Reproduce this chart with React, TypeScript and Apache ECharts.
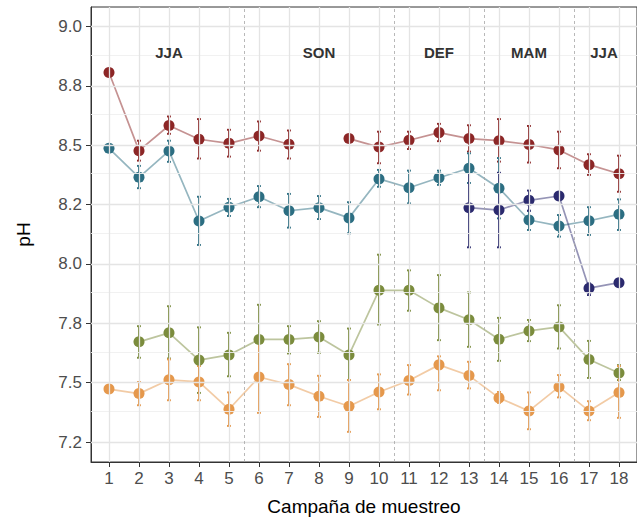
import React, { useEffect, useRef } from "react";
import * as echarts from "echarts";

// ---- Data ----
const campaigns = [1, 2, 3, 4, 5, 6, 7, 8, 9, 10, 11, 12, 13, 14, 15, 16, 17, 18];

const redMean = [8.806, 8.477, 8.583, 8.525, 8.508, 8.539, 8.504, null, 8.528, 8.492, 8.521, 8.553, 8.528, 8.519, 8.503, 8.48, 8.418, 8.38];
const redLow = [null, 8.435, 8.548, 8.444, 8.452, 8.477, 8.444, null, null, 8.424, 8.484, 8.517, 8.473, 8.431, 8.427, 8.403, 8.375, 8.304];
const redHigh = [null, 8.519, 8.621, 8.61, 8.565, 8.6, 8.562, null, null, 8.557, 8.557, 8.59, 8.584, 8.61, 8.581, 8.557, 8.462, 8.456];

const tealMean = [8.487, 8.365, 8.476, 8.181, 8.239, 8.283, 8.224, 8.237, 8.194, 8.358, 8.321, 8.363, 8.403, 8.319, 8.185, 8.16, 8.182, 8.209];
const tealLow = [null, 8.319, 8.43, 8.08, 8.202, 8.239, 8.153, 8.189, 8.129, 8.325, 8.255, 8.333, 8.341, 8.192, 8.143, 8.115, 8.122, 8.143];
const tealHigh = [null, 8.413, 8.519, 8.283, 8.274, 8.328, 8.295, 8.286, 8.26, 8.396, 8.393, 8.393, 8.466, 8.446, 8.224, 8.206, 8.239, 8.272];

const navyMean = [null, null, null, null, null, null, null, null, null, null, null, null, 8.237, 8.227, 8.268, 8.286, 7.898, 7.921];
const navyLow = [null, null, null, null, null, null, null, null, null, null, null, null, 8.07, 8.07, 8.224, null, 7.869, null];
const navyHigh = [null, null, null, null, null, null, null, null, null, null, null, null, 8.404, 8.384, 8.309, null, 7.918, null];

const greenMean = [null, 7.672, 7.71, 7.595, 7.617, 7.682, 7.682, 7.692, 7.617, 7.889, 7.889, 7.815, 7.765, 7.683, 7.718, 7.735, 7.598, 7.541];
const greenLow = [null, 7.605, 7.602, 7.457, 7.527, 7.536, 7.623, 7.626, 7.511, 7.745, 7.803, 7.679, 7.651, 7.592, 7.675, 7.644, 7.52, 7.511];
const greenHigh = [null, 7.738, 7.822, 7.733, 7.71, 7.828, 7.738, 7.759, 7.728, 8.039, 7.973, 7.953, 7.88, 7.773, 7.764, 7.826, 7.676, 7.574];

const orangeMean = [7.473, 7.454, 7.512, 7.503, 7.388, 7.524, 7.492, 7.443, 7.401, 7.461, 7.509, 7.575, 7.53, 7.436, 7.381, 7.482, 7.381, 7.459];
const orangeLow = [7.463, 7.405, 7.426, 7.426, 7.318, 7.373, 7.405, 7.356, 7.293, 7.388, 7.45, 7.468, 7.476, 7.415, 7.304, 7.438, 7.342, 7.352];
const orangeHigh = [7.483, 7.503, 7.598, 7.57, 7.459, 7.675, 7.578, 7.529, 7.511, 7.535, 7.574, 7.611, 7.588, 7.461, 7.459, 7.532, 7.422, 7.57];

const seasonNames = ["JJA", "SON", "DEF", "MAM", "JJA"];
const seasonCenters = [3, 8, 12, 15, 17.5];
const seasonLabelY = 8.89;
const seasonBoundaries = [5.5, 10.5, 13.5, 16.5];

const yTickValues = [7.25, 7.5, 7.75, 8.0, 8.25, 8.5, 8.75, 9.0];
const yTickLabels = ["7.2", "7.5", "7.8", "8.0", "8.2", "8.5", "8.8", "9.0"];
const yMinorValues = [7.375, 7.625, 7.875, 8.125, 8.375, 8.625, 8.875];

const groups = [
  { name: "G1", color: "#8C2626", mean: redMean, low: redLow, high: redHigh },
  { name: "G2", color: "#2C6E82", mean: tealMean, low: tealLow, high: tealHigh },
  { name: "G3", color: "#2B2A6E", mean: navyMean, low: navyLow, high: navyHigh },
  { name: "G4", color: "#7B8C3D", mean: greenMean, low: greenLow, high: greenHigh },
  { name: "G5", color: "#E5984C", mean: orangeMean, low: orangeLow, high: orangeHigh },
];

const FONT = "'Liberation Sans', Arial, sans-serif";

export default function App() {
  const ref = useRef<HTMLDivElement>(null);

  useEffect(() => {
    if (!ref.current) return;
    const chart = echarts.init(ref.current, null, { renderer: "svg" });

    const series: any[] = [];

    // grid lines + season separators
    series.push({
      type: "line",
      data: [],
      z: 0,
      silent: true,
      markLine: {
        silent: true,
        symbol: "none",
        animation: false,
        label: { show: false },
        data: [
          ...yMinorValues.map((v) => ({ yAxis: v, lineStyle: { color: "#EFEFEF", width: 0.9, type: "solid" } })),
          ...yTickValues.map((v) => ({ yAxis: v, lineStyle: { color: "#E4E4E4", width: 1.3, type: "solid" } })),
          ...campaigns.map((v) => ({ xAxis: v, lineStyle: { color: "#E4E4E4", width: 1.3, type: "solid" } })),
        ],
      },
    });
    series.push({
      type: "line",
      data: [],
      z: 1,
      silent: true,
      markLine: {
        silent: true,
        symbol: "none",
        animation: false,
        label: { show: false },
        lineStyle: { color: "#A6A6A6", width: 0.8, type: [3, 3] },
        data: seasonBoundaries.map((v) => ({ xAxis: v })),
      },
    });
    // season labels
    series.push({
      type: "custom",
      z: 5,
      silent: true,
      data: seasonCenters.map((x, i) => [x, seasonLabelY, i]),
      encode: { x: 0, y: 1 },
      renderItem: (params: any, api: any) => {
        const p = api.coord([api.value(0), api.value(1)]);
        return {
          type: "text",
          x: p[0],
          y: p[1],
          style: {
            text: seasonNames[api.value(2)],
            fill: "#333333",
            font: `bold 15px ${FONT}`,
            align: "center",
            verticalAlign: "middle",
          },
        };
      },
    });

    groups.forEach((g) => {
      const lineData = campaigns.map((c, i) => [c, g.mean[i]]);
      series.push({
        type: "line",
        name: g.name,
        z: 2,
        data: lineData,
        connectNulls: false,
        showSymbol: false,
        symbol: "none",
        lineStyle: { color: g.color, width: 1.7, opacity: 0.5 },
      });
    });

    groups.forEach((g) => {
      const ebData = campaigns
        .map((c, i) => [c, g.low[i], g.high[i]])
        .filter((d) => d[1] != null && d[2] != null);
      series.push({
        type: "custom",
        z: 3,
        silent: true,
        data: ebData,
        encode: { x: 0, y: [1, 2] },
        renderItem: (params: any, api: any) => {
          const x = api.value(0);
          const lo = api.coord([x, api.value(1)]);
          const hi = api.coord([x, api.value(2)]);
          const hw = 2;
          const style = { stroke: g.color, lineWidth: 1.9 };
          return {
            type: "group",
            children: [
              { type: "line", shape: { x1: lo[0], y1: lo[1], x2: hi[0], y2: hi[1] }, style },
              { type: "line", shape: { x1: lo[0] - hw, y1: lo[1], x2: lo[0] + hw, y2: lo[1] }, style },
              { type: "line", shape: { x1: hi[0] - hw, y1: hi[1], x2: hi[0] + hw, y2: hi[1] }, style },
            ],
          };
        },
      });
    });

    groups.forEach((g) => {
      const pts = campaigns.map((c, i) => [c, g.mean[i]]).filter((d) => d[1] != null);
      series.push({
        type: "scatter",
        z: 4,
        data: pts,
        symbol: "circle",
        symbolSize: 11,
        itemStyle: { color: g.color, opacity: 1 },
      });
    });

    chart.setOption({
      animation: false,
      textStyle: { fontFamily: FONT },
      grid: {
        left: 91,
        top: 7,
        right: -2,
        bottom: 62,
        show: true,
        borderColor: "#333333",
        borderWidth: 1,
        backgroundColor: "transparent",
      },
      xAxis: {
        type: "value",
        min: 0.4,
        max: 18.6,
        name: "Campaña de muestreo",
        nameLocation: "middle",
        nameGap: 35,
        nameTextStyle: { fontFamily: FONT, fontSize: 19, color: "#000000" },
        splitLine: { show: false },
        axisLine: { show: true, onZero: false, lineStyle: { color: "#333333", width: 1 } },
        axisTick: { show: true, length: 5, customValues: campaigns, lineStyle: { color: "#333333", width: 1 } },
        axisLabel: {
          customValues: campaigns,
          fontFamily: FONT,
          fontSize: 17,
          color: "#4D4D4D",
          margin: 8,
        },
      },
      yAxis: {
        type: "value",
        min: 7.166,
        max: 9.082,
        name: "pH",
        nameLocation: "middle",
        nameGap: 58,
        nameRotate: 90,
        nameTextStyle: { fontFamily: FONT, fontSize: 19, color: "#000000" },
        splitLine: { show: false },
        axisLine: { show: true, onZero: false, lineStyle: { color: "#333333", width: 1 } },
        axisTick: { show: true, length: 5, customValues: yTickValues, lineStyle: { color: "#333333", width: 1 } },
        axisLabel: {
          customValues: yTickValues,
          formatter: (v: number) => {
            const i = yTickValues.findIndex((t) => Math.abs(t - v) < 1e-6);
            return i >= 0 ? yTickLabels[i] : "";
          },
          fontFamily: FONT,
          fontSize: 17,
          color: "#4D4D4D",
          margin: 9,
        },
      },
      series,
    });

    return () => chart.dispose();
  }, []);

  return (
    <div
      ref={ref}
      style={{ position: "fixed", left: 0, top: 0, width: 637, height: 524, background: "#ffffff" }}
    />
  );
}
